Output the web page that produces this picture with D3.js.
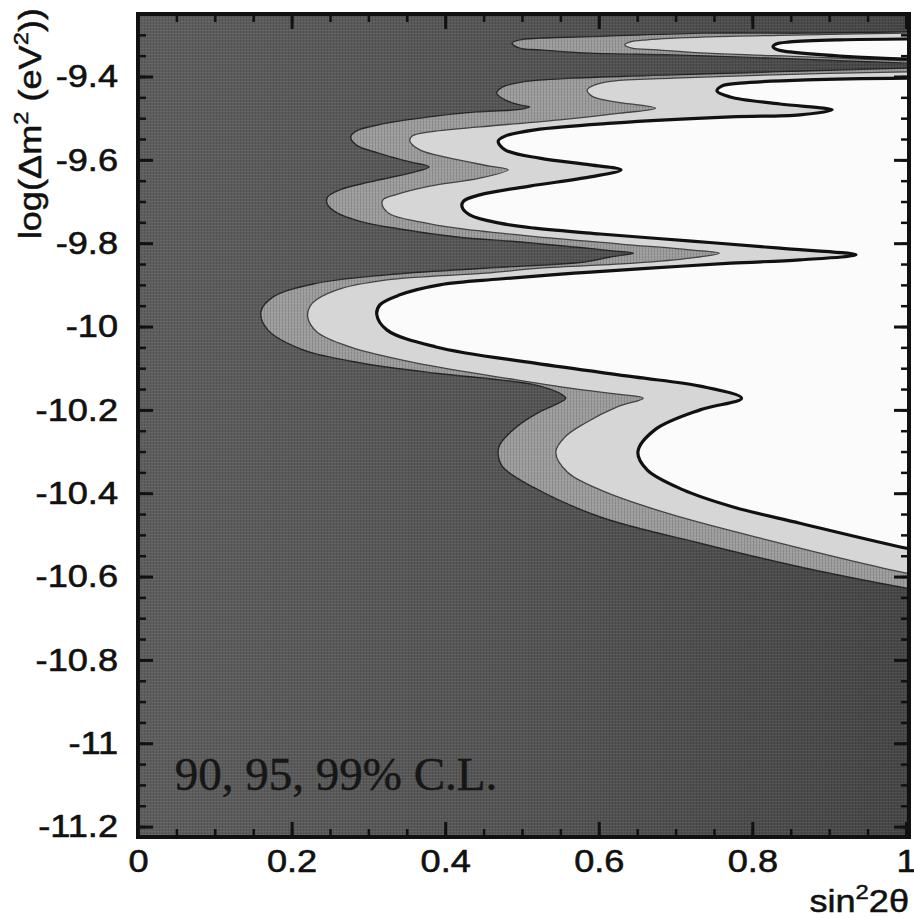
<!DOCTYPE html>
<html>
<head>
<meta charset="utf-8">
<script src="https://cdnjs.cloudflare.com/ajax/libs/d3/7.8.5/d3.min.js"></script>
<style>
  html, body { margin: 0; padding: 0; background: #fff; }
  svg { display: block; }
</style>
</head>
<body>
<div id="chart"></div>
<script>
/* CONSTANTS */
const width = 914,
  height = 918,
  plot = { left: 138, right: 909, top: 14, bottom: 837 };

/* DATA: contours, as [sin^2 2theta, log(dm^2)] */
const xTicks = [0, 0.2, 0.4, 0.6, 0.8, 1];
const yTicks = [-9.4, -9.6, -9.8, -10, -10.2, -10.4, -10.6, -10.8, -11, -11.2];
const levels = ["99", "95", "90"];

// small island along the top
const island99 = [[1.03,-9.293],[1.001,-9.293],[0.871,-9.296],[0.741,-9.296],[0.611,-9.303],[0.523,-9.308],[0.497,-9.312],[0.487,-9.320],[0.497,-9.332],[0.523,-9.336],[0.589,-9.344],[0.697,-9.348],[0.827,-9.356],[1.001,-9.368],[1.03,-9.370]];
const island95 = [[1.03,-9.296],[1.001,-9.296],[0.871,-9.300],[0.741,-9.305],[0.663,-9.312],[0.641,-9.317],[0.634,-9.324],[0.643,-9.332],[0.676,-9.336],[0.741,-9.344],[0.871,-9.353],[1.001,-9.362],[1.03,-9.362]];
const island90 = [[1.03,-9.310],[1.001,-9.310],[0.914,-9.312],[0.849,-9.317],[0.831,-9.322],[0.827,-9.329],[0.833,-9.336],[0.849,-9.341],[0.914,-9.351],[1.001,-9.358],[1.03,-9.358]];

// main allowed region
const main99 = [[1.03,-9.380],[1.001,-9.380],[0.827,-9.389],[0.697,-9.396],[0.566,-9.404],[0.501,-9.413],[0.475,-9.425],[0.467,-9.440],[0.478,-9.456],[0.497,-9.468],[0.510,-9.473],[0.491,-9.480],[0.440,-9.485],[0.379,-9.497],[0.313,-9.516],[0.284,-9.531],[0.277,-9.545],[0.284,-9.564],[0.313,-9.584],[0.354,-9.605],[0.379,-9.617],[0.354,-9.632],[0.302,-9.653],[0.263,-9.672],[0.247,-9.689],[0.246,-9.704],[0.257,-9.725],[0.288,-9.747],[0.341,-9.766],[0.415,-9.785],[0.497,-9.797],[0.568,-9.809],[0.621,-9.819],[0.645,-9.824],[0.615,-9.833],[0.581,-9.845],[0.452,-9.860],[0.324,-9.876],[0.228,-9.898],[0.176,-9.929],[0.160,-9.965],[0.169,-10.008],[0.215,-10.056],[0.292,-10.088],[0.388,-10.112],[0.471,-10.128],[0.517,-10.140],[0.549,-10.160],[0.557,-10.172],[0.543,-10.188],[0.523,-10.205],[0.491,-10.244],[0.471,-10.284],[0.469,-10.308],[0.475,-10.337],[0.514,-10.385],[0.602,-10.457],[0.732,-10.520],[0.862,-10.577],[1.001,-10.628],[1.03,-10.637]];
const main95 = [[1.03,-9.389],[1.001,-9.389],[0.827,-9.396],[0.697,-9.404],[0.618,-9.411],[0.595,-9.420],[0.585,-9.432],[0.591,-9.447],[0.615,-9.459],[0.674,-9.476],[0.628,-9.488],[0.549,-9.504],[0.445,-9.521],[0.380,-9.533],[0.357,-9.543],[0.354,-9.555],[0.367,-9.576],[0.406,-9.596],[0.458,-9.615],[0.482,-9.624],[0.445,-9.644],[0.380,-9.663],[0.335,-9.684],[0.319,-9.696],[0.318,-9.708],[0.328,-9.730],[0.367,-9.749],[0.415,-9.764],[0.510,-9.783],[0.628,-9.802],[0.719,-9.816],[0.757,-9.824],[0.719,-9.836],[0.646,-9.848],[0.523,-9.860],[0.452,-9.872],[0.324,-9.888],[0.259,-9.912],[0.227,-9.944],[0.221,-9.977],[0.233,-10.013],[0.276,-10.049],[0.363,-10.088],[0.493,-10.128],[0.579,-10.152],[0.628,-10.163],[0.658,-10.172],[0.624,-10.193],[0.582,-10.232],[0.556,-10.265],[0.544,-10.301],[0.559,-10.349],[0.602,-10.392],[0.689,-10.448],[0.819,-10.512],[1.001,-10.592],[1.03,-10.601]];
const main90 = [[1.03,-9.404],[1.001,-9.404],[0.871,-9.408],[0.784,-9.416],[0.760,-9.423],[0.754,-9.435],[0.771,-9.449],[0.836,-9.466],[0.904,-9.480],[0.862,-9.492],[0.772,-9.497],[0.618,-9.512],[0.517,-9.528],[0.478,-9.543],[0.469,-9.555],[0.478,-9.576],[0.523,-9.596],[0.589,-9.612],[0.629,-9.624],[0.589,-9.641],[0.510,-9.663],[0.445,-9.684],[0.424,-9.699],[0.422,-9.713],[0.432,-9.732],[0.471,-9.752],[0.517,-9.764],[0.602,-9.778],[0.721,-9.795],[0.836,-9.812],[0.935,-9.828],[0.862,-9.840],[0.772,-9.848],[0.667,-9.860],[0.568,-9.872],[0.471,-9.886],[0.393,-9.900],[0.341,-9.924],[0.315,-9.948],[0.311,-9.972],[0.324,-10.008],[0.388,-10.049],[0.517,-10.088],[0.646,-10.121],[0.732,-10.143],[0.786,-10.172],[0.732,-10.200],[0.673,-10.248],[0.651,-10.301],[0.663,-10.344],[0.710,-10.392],[0.775,-10.433],[0.862,-10.472],[1.001,-10.532],[1.03,-10.541]];

const shapesByLevel = {
  "99": [island99, main99],
  "95": [island95, main95],
  "90": [island90, main90]
};

/* STYLES */
const fillColor = { "99": "#9c9c9c", "95": "#d6d6d6", "90": "#fbfbfb" };
const edgeColor = { "99": "#252525", "95": "#444", "90": "#111" };
const edgeWidth = { "99": 1.4, "95": 1.3, "90": 3.2 };
const sans = "'Liberation Sans', Arial, Helvetica, sans-serif";
const stretch = 1.13;

/* SCALES */
const xScale = d3.scaleLinear().domain([0, 1.004]).range([plot.left, plot.right]);
const yScale = d3.scaleLinear().domain([-11.225, -9.25]).range([plot.bottom, plot.top]);

/* SVG */
const svg = d3.select("#chart").append("svg")
  .attr("width", width)
  .attr("height", height);

const defs = svg.append("defs");
defs.append("clipPath").attr("id", "plotClip")
  .append("rect")
  .attr("x", plot.left).attr("y", plot.top)
  .attr("width", plot.right - plot.left).attr("height", plot.bottom - plot.top);

const grad = defs.append("linearGradient").attr("id", "bgGrad")
  .attr("x1", 0).attr("x2", 1).attr("y1", 0).attr("y2", 0);
grad.append("stop").attr("offset", "0%").attr("stop-color", "#5e5e5e");
grad.append("stop").attr("offset", "45%").attr("stop-color", "#565656");
grad.append("stop").attr("offset", "100%").attr("stop-color", "#464646");

// fine screen texture of the scanned print
const grain = defs.append("pattern").attr("id", "grain")
  .attr("width", 3).attr("height", 3).attr("patternUnits", "userSpaceOnUse");
grain.append("rect").attr("width", 1).attr("height", 3).attr("fill", "#000").attr("opacity", 0.12);
grain.append("rect").attr("width", 3).attr("height", 1).attr("fill", "#fff").attr("opacity", 0.06);

const plotG = svg.append("g").attr("clip-path", "url(#plotClip)");

plotG.append("rect")
  .attr("x", plot.left).attr("y", plot.top)
  .attr("width", plot.right - plot.left).attr("height", plot.bottom - plot.top)
  .attr("fill", "url(#bgGrad)");

const contour = d3.line()
  .x(d => xScale(d[0]))
  .y(d => yScale(d[1]))
  .curve(d3.curveCatmullRom.alpha(0.5));

levels.forEach(level => {
  plotG.selectAll("path.c" + level)
    .data(shapesByLevel[level])
    .join("path")
    .attr("class", "c" + level)
    .attr("d", contour)
    .attr("fill", fillColor[level])
    .attr("stroke", edgeColor[level])
    .attr("stroke-width", edgeWidth[level])
    .attr("stroke-linejoin", "round");

  if (level === "99") {
    // texture over the dark and mid-grey parts only
    plotG.append("rect")
      .attr("x", plot.left).attr("y", plot.top)
      .attr("width", plot.right - plot.left).attr("height", plot.bottom - plot.top)
      .attr("fill", "url(#grain)");
  }
});

/* AXES */
const fmt = d => String(+d.toFixed(1));

function tickStyle(g, w) {
  g.select(".domain").remove();
  g.selectAll(".tick line").attr("stroke", "#111").attr("stroke-width", w);
}

function labelStyle(g) {
  g.attr("font-family", sans).attr("font-size", 32);
  g.selectAll("text")
    .attr("fill", "#111")
    .attr("stroke", "#111")
    .attr("stroke-width", 0.6)
    .each(function() {
      const w = this.getComputedTextLength();
      d3.select(this).attr("textLength", w * stretch).attr("lengthAdjust", "spacingAndGlyphs");
    });
}

// minor ticks, all four sides
svg.append("g").attr("transform", `translate(0,${plot.bottom})`)
  .call(d3.axisBottom(xScale).tickValues(xScale.ticks(20)).tickSize(-8).tickFormat(""))
  .call(tickStyle, 2.5);
svg.append("g").attr("transform", `translate(0,${plot.top})`)
  .call(d3.axisTop(xScale).tickValues(xScale.ticks(20)).tickSize(-8).tickFormat(""))
  .call(tickStyle, 2.5);
svg.append("g").attr("transform", `translate(${plot.left},0)`)
  .call(d3.axisLeft(yScale).tickValues(yScale.ticks(40)).tickSize(-8).tickFormat(""))
  .call(tickStyle, 2.5);
svg.append("g").attr("transform", `translate(${plot.right},0)`)
  .call(d3.axisRight(yScale).tickValues(yScale.ticks(40)).tickSize(-8).tickFormat(""))
  .call(tickStyle, 2.5);

// major ticks
svg.append("g").attr("transform", `translate(0,${plot.bottom})`)
  .call(d3.axisBottom(xScale).tickValues(xTicks).tickSize(-15).tickPadding(12).tickFormat(fmt))
  .call(tickStyle, 3)
  .call(labelStyle);
svg.append("g").attr("transform", `translate(0,${plot.top})`)
  .call(d3.axisTop(xScale).tickValues(xTicks).tickSize(-15).tickFormat(""))
  .call(tickStyle, 3);
svg.append("g").attr("transform", `translate(${plot.left},0)`)
  .call(d3.axisLeft(yScale).tickValues(yTicks).tickSize(-15).tickPadding(20).tickFormat(fmt))
  .call(tickStyle, 3)
  .call(labelStyle);
svg.append("g").attr("transform", `translate(${plot.right},0)`)
  .call(d3.axisRight(yScale).tickValues(yTicks).tickSize(-15).tickFormat(""))
  .call(tickStyle, 3);

// frame
svg.append("rect")
  .attr("x", plot.left).attr("y", plot.top)
  .attr("width", plot.right - plot.left).attr("height", plot.bottom - plot.top)
  .attr("fill", "none")
  .attr("stroke", "#111")
  .attr("stroke-width", 4);

/* TITLES */
const yTitle = svg.append("text")
  .attr("transform", `translate(41,8) rotate(-90) scale(${stretch},1)`)
  .attr("text-anchor", "end")
  .attr("font-family", sans)
  .attr("font-size", 32)
  .attr("fill", "#111")
  .attr("stroke", "#111")
  .attr("stroke-width", 0.5);
yTitle.append("tspan").text("log(\u0394m");
yTitle.append("tspan").attr("font-size", 21).attr("dy", -13).text("2");
yTitle.append("tspan").attr("dy", 13).text(" (eV");
yTitle.append("tspan").attr("font-size", 21).attr("dy", -13).text("2");
yTitle.append("tspan").attr("dy", 13).text("))");

const xTitle = svg.append("text")
  .attr("transform", `translate(909,912) scale(${stretch},1)`)
  .attr("text-anchor", "end")
  .attr("font-family", sans)
  .attr("font-size", 32)
  .attr("fill", "#111")
  .attr("stroke", "#111")
  .attr("stroke-width", 0.5);
xTitle.append("tspan").text("sin");
xTitle.append("tspan").attr("font-size", 21).attr("dy", -13).text("2");
xTitle.append("tspan").attr("dy", 13).text("2\u03b8");

/* ANNOTATION */
svg.append("text")
  .attr("x", xScale(0.048))
  .attr("y", yScale(-11.112))
  .attr("font-family", "'Liberation Serif', 'Times New Roman', serif")
  .attr("font-size", 47)
  .attr("fill", "#161616")
  .attr("stroke", "#161616")
  .attr("stroke-width", 0.5)
  .text("90, 95, 99% C.L.");
</script>
</body>
</html>
